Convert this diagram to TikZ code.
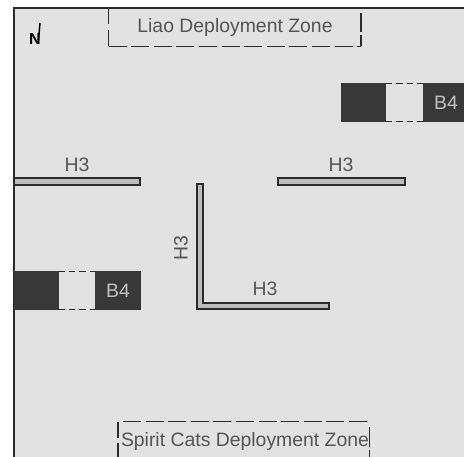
\documentclass[tikz,border=0pt]{standalone}
\usepackage{fontspec}
\setmainfont{Liberation Sans}
\definecolor{mapbg}{HTML}{E2E2E2}
\definecolor{ink}{HTML}{2B2B2B}
\definecolor{dark}{HTML}{383838}
\definecolor{txt}{HTML}{555555}
\definecolor{wallfill}{HTML}{BDBDBD}
\tikzset{
  zone/.style={draw=ink,line width=1.9pt},
  zonedash/.style={zone,dash pattern=on 18pt off 4.6pt},
  wall/.style={draw=ink,line width=2pt,fill=wallfill},
  block/.style={fill=dark,draw=dark,line width=1pt},
  gapline/.style={draw=ink,line width=1.9pt,dash pattern=on 6.5pt off 4pt},
  label/.style={text=txt,font=\fontsize{19.4}{21}\selectfont,inner sep=0pt},
  blabel/.style={text=mapbg!85!black,font=\fontsize{19.4}{21}\selectfont,inner sep=0pt}
}
\begin{document}
\begin{tikzpicture}[x=1pt,y=-1pt]
\useasboundingbox (0,0) rectangle (464,457);
\fill[white] (0,0) rectangle (464,457);
\fill[mapbg] (14,8) rectangle (464,457);
\draw[ink,line width=1.6pt] (14,457) -- (14,8) -- (464,8);
% north mark
\node[inner sep=0pt,font=\fontsize{16}{17}\selectfont\bfseries,text=black] (north) at (35,38.5) {N};
\draw[black,line width=1.5pt] (40,23) -- (38.5,40);
% deployment zones
\draw[zonedash] (108.5,46.5) -- (361,46.5);
\draw[zone] (108.5,46.5) -- (108.5,30) (108.5,24) -- (108.5,8);
\draw[zone] (361,46.5) -- (361,35) (361,32) -- (361,13);
\node[label] (liao) at (235,27.5) {Liao Deployment Zone};
\draw[zonedash] (123,421.5) -- (369.5,421.5);
\draw[zone] (118,422) -- (118,438) (118,443) -- (118,457);
\draw[zone] (369.5,427) -- (369.5,447) (369.5,450) -- (369.5,457);
\node[label] (spirit) at (245,441) {Spirit Cats Deployment Zone};
% walls
\draw[wall] (14,178.5) rectangle (140,185.5);
\draw[wall] (278,178.5) rectangle (404.5,185.5);
\draw[wall] (196.5,184) -- (203,184) -- (203,303) -- (328.5,303) -- (328.5,309.5) -- (196.5,309.5) -- cycle;
\node[label] (h1) at (77,165) {H3};
\node[label] (h2) at (341,165) {H3};
\node[label,rotate=90] (h3) at (181,248) {H3};
\node[label] (h4) at (265,289) {H3};
% upper building
\draw[block] (341,83.5) rectangle (385.5,121.5);
\draw[block] (423.5,83.5) rectangle (464,121.5);
\draw[gapline] (385.5,83.5) -- (423.5,83.5);
\draw[gapline] (385.5,121.5) -- (423.5,121.5);
\node[blabel] (b1) at (446,103) {B4};
% lower building
\draw[block] (14,271.5) rectangle (58,309.5);
\draw[block] (95.5,271.5) rectangle (140,309.5);
\draw[gapline] (58,271.5) -- (95.5,271.5);
\draw[gapline] (58,309.5) -- (95.5,309.5);
\node[blabel] (b2) at (118,291) {B4};
\end{tikzpicture}
\end{document}
